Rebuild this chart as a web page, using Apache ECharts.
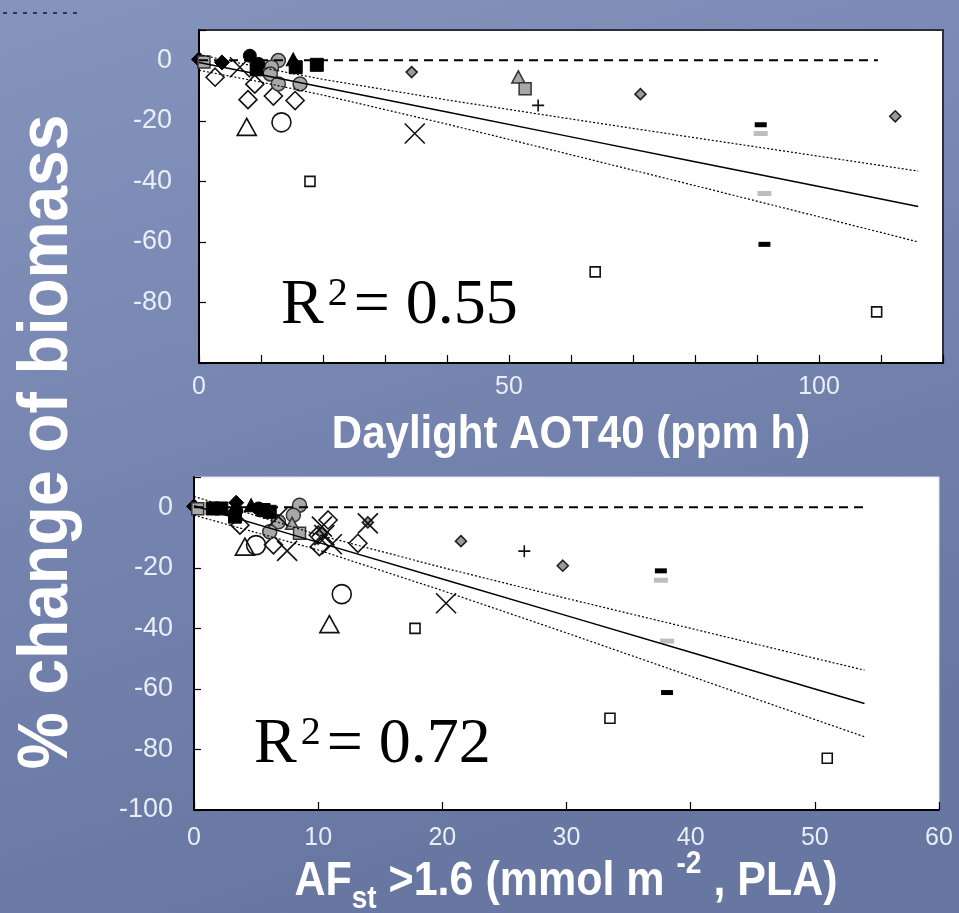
<!DOCTYPE html>
<html><head><meta charset="utf-8">
<script src="https://cdn.jsdelivr.net/npm/echarts@6/dist/echarts.min.js"></script>
<style>html,body{margin:0;padding:0;background:#7584ae;}#c{width:959px;height:913px;}</style>
</head><body><div id="c"></div>
<script>
// ---------- DATA : top panel (x = Daylight AOT40, ppm h ; y = % change of biomass) ----------
const topXTicks = [0, 50, 100];
const topOpenDiamond  = [[2.6,-5.6],[9.0,-7.9],[7.9,-13.0],[12.0,-11.8],[15.5,-13.3]];
const topGrayDiamond  = [[34.3,-3.9],[71.2,-11.2],[112.3,-18.5]];
const topBlackDiamond = [[0,0.3],[3.7,-0.7]];
const topGrayCircle   = [[12.8,-0.1],[11.7,-2.3],[11.5,-4.5],[12.8,-7.8],[16.3,-7.8]];
const topBlackCircle  = [[8.2,1.5],[9.6,-1.2]];
const topOpenCircle   = [[13.3,-20.5]];
const topOpenTriangle = [[7.7,-22.0]];
const topGrayTriangle = [[51.5,-5.5]];
const topBlackTriangle= [[15.2,0.3]];
const topBlackSquare  = [[9.3,-3.0],[15.6,-2.3],[19.0,-1.5]];
const topGraySquare   = [[0.8,-0.6],[52.6,-9.4]];
const topOpenSquare   = [[17.9,-40.0],[63.9,-69.9],[109.3,-83.1]];
const topCross        = [[6.6,-2.3],[34.8,-24.2]];
const topPlus         = [[54.7,-14.9]];
const topBlackDash    = [[90.6,-21.3],[91.2,-60.8]];
const topGrayDash     = [[90.6,-24.2],[91.2,-44.0]];
const topLineX  = [0, 10, 20, 40, 60, 80, 100, 116];
const topFitY   = [-0.7, -4.8, -8.9, -17.1, -25.3, -33.5, -41.7, -48.3];
const topUpperY = [1.9, -2.4, -6.3, -13.1, -19.4, -25.6, -31.7, -36.6];
const topLowerY = [-3.3, -7.2, -11.5, -21.1, -31.2, -41.4, -51.7, -60.0];
const topZeroX  = [0, 109.5];
const topR2 = '0.55';

// ---------- DATA : bottom panel (x = AFst>1.6, mmol m-2 PLA) ----------
const botOpenDiamond  = [[3.7,-5.9],[6.4,-12.4],[10.8,-4.2],[10.0,-9.2],[10.1,-13.0],[13.2,-11.9]];
const botGrayDiamond  = [[10.3,-8.6],[14.0,-5.0],[21.5,-11.2],[29.7,-19.3]];
const botBlackDiamond = [[0,0.3],[3.4,1.5]];
const botGrayCircle   = [[8.5,0.7],[8.0,-2.6],[6.8,-4.8],[6.1,-8.1]];
const botBlackCircle  = [[3.4,-1.2],[5.2,-0.4]];
const botOpenCircle   = [[5.0,-12.5],[11.9,-28.7]];
const botOpenTriangle = [[4.1,-13.0],[10.9,-38.6]];
const botGrayTriangle = [[7.9,-5.3]];
const botBlackTriangle= [[4.6,0.7]];
const botBlackSquare  = [[1.5,-0.4],[2.2,-0.4],[3.3,-3.1],[5.6,-0.9],[6.1,-1.5]];
const botGraySquare   = [[0.3,-0.5],[8.5,-8.6]];
const botOpenSquare   = [[17.8,-40.0],[33.5,-69.7],[51.0,-82.9]];
const botCross        = [[6.8,-3.1],[7.5,-14.4],[10.3,-6.4],[10.5,-9.2],[11.1,-12.2],[14.0,-5.3],[20.3,-31.7]];
const botPlus         = [[26.6,-14.5]];
const botBlackDash    = [[37.6,-21.0],[38.1,-61.2]];
const botGrayDash     = [[37.6,-24.1],[38.1,-44.2]];
const botLineX  = [0, 10, 20, 30, 40, 50, 54];
const botFitY   = [0.5, -11.6, -23.7, -35.8, -47.9, -60.0, -64.8];
const botUpperY = [3.6, -9.1, -19.9, -30.1, -40.0, -49.9, -53.8];
const botLowerY = [-2.6, -14.1, -27.5, -41.5, -55.8, -70.1, -75.8];
const botZeroX  = [0, 54.2];
const botR2 = '0.72';

// ---------- STYLES ----------
const T = 'rgba(0,0,0,0)';
const CROSS = 'path://M0,0L20,20M20,0L0,20';
const PLUS = 'path://M10,0L10,20M0,10L20,10';
const S = {
  openDiamond:  {symbol:'diamond', size:18, fill:T, stroke:'#111', bw:1.6},
  grayDiamond:  {symbol:'diamond', size:11, fill:'#9a9a9a', stroke:'#222', bw:1.6},
  blackDiamond: {symbol:'diamond', size:15, fill:'#000', stroke:'#000', bw:1},
  grayCircle:   {symbol:'circle', size:14, fill:'#a8a8a8', stroke:'#333', bw:1.5},
  blackCircle:  {symbol:'circle', size:13, fill:'#000', stroke:'#000', bw:1},
  openCircle:   {symbol:'circle', size:19, fill:T, stroke:'#111', bw:1.6},
  openTriangle: {symbol:'triangle', size:[19,17], fill:T, stroke:'#111', bw:1.6},
  grayTriangle: {symbol:'triangle', size:[13,12], fill:'#a8a8a8', stroke:'#333', bw:1.5},
  blackTriangle:{symbol:'triangle', size:[14,13], fill:'#000', stroke:'#000', bw:1},
  blackSquare:  {symbol:'rect', size:13, fill:'#000', stroke:'#000', bw:1},
  graySquare:   {symbol:'rect', size:12, fill:'#a8a8a8', stroke:'#333', bw:1.5},
  openSquare:   {symbol:'rect', size:10, fill:T, stroke:'#111', bw:1.6},
  cross:        {symbol:CROSS, size:20, fill:T, stroke:'#111', bw:1.6},
  plus:         {symbol:PLUS, size:12, fill:T, stroke:'#111', bw:1.6},
  blackDash:    {symbol:'rect', size:[12,5], fill:'#000', stroke:'#000', bw:0},
  grayDash:     {symbol:'rect', size:[14,5], fill:'#bdbdbd', stroke:'#bdbdbd', bw:0}
};

function sc(g, data, st) {
  return {type:'scatter', xAxisIndex:g, yAxisIndex:g, data:data, symbol:st.symbol, symbolSize:st.size,
    itemStyle:{color:st.fill, borderColor:st.stroke, borderWidth:st.bw, opacity:1}, z:3, silent:true, animation:false};
}
function ln(g, xs, ys, type, width) {
  return {type:'line', xAxisIndex:g, yAxisIndex:g, data:xs.map((x,i)=>[x, ys[i]]), showSymbol:false, symbol:'none',
    lineStyle:{color:'#000', width:width, type:type}, z:4, silent:true, animation:false};
}
function zeros(xs){ return xs.map(()=>0); }

const series = [];
[[0, {openDiamond:topOpenDiamond, grayDiamond:topGrayDiamond, blackDiamond:topBlackDiamond, grayCircle:topGrayCircle,
      blackCircle:topBlackCircle, openCircle:topOpenCircle, openTriangle:topOpenTriangle, grayTriangle:topGrayTriangle,
      blackTriangle:topBlackTriangle, blackSquare:topBlackSquare, graySquare:topGraySquare, openSquare:topOpenSquare,
      cross:topCross, plus:topPlus, blackDash:topBlackDash, grayDash:topGrayDash}],
 [1, {openDiamond:botOpenDiamond, grayDiamond:botGrayDiamond, blackDiamond:botBlackDiamond, grayCircle:botGrayCircle,
      blackCircle:botBlackCircle, openCircle:botOpenCircle, openTriangle:botOpenTriangle, grayTriangle:botGrayTriangle,
      blackTriangle:botBlackTriangle, blackSquare:botBlackSquare, graySquare:botGraySquare, openSquare:botOpenSquare,
      cross:botCross, plus:botPlus, blackDash:botBlackDash, grayDash:botGrayDash}]
].forEach(([g, groups]) => { Object.keys(groups).forEach(k => series.push(sc(g, groups[k], S[k]))); });

series.push(ln(0, topZeroX, zeros(topZeroX), [9,6], 1.8));
series.push(ln(0, topLineX, topFitY, 'solid', 1.5));
series.push(ln(0, topLineX, topUpperY, [2,2], 1.2));
series.push(ln(0, topLineX, topLowerY, [2,2], 1.2));
series.push(ln(1, botZeroX, zeros(botZeroX), [9,6], 1.8));
series.push(ln(1, botLineX, botFitY, 'solid', 1.5));
series.push(ln(1, botLineX, botUpperY, [2,2], 1.2));
series.push(ln(1, botLineX, botLowerY, [2,2], 1.2));

const LBL = '#e9edf6';
const FONT = "'Liberation Sans', Arial, sans-serif";
const SERIF = "'Liberation Serif', 'Times New Roman', serif";
function xAx(g, max, fmt, margin) {
  return {type:'value', gridIndex:g, min:0, max:max, interval:10,
    axisLine:{show:true, onZero:false, lineStyle:{color:'#000', width:2}},
    axisTick:{show:true, inside:true, length:8, lineStyle:{color:'#000', width:1.2}},
    axisLabel:{color:LBL, fontSize:25, fontFamily:FONT, margin:margin, formatter:fmt},
    splitLine:{show:false}};
}
function yAx(g, hide, margin) {
  return {type:'value', gridIndex:g, min:-100, max:10, interval:20,
    axisLine:{show:true, onZero:false, lineStyle:{color:'#000', width:2}},
    axisTick:{show:true, inside:true, length:7, lineStyle:{color:'#000', width:1.2}},
    axisLabel:{color:LBL, fontSize:27, fontFamily:FONT, margin:margin,
      formatter: v => hide.indexOf(v) >= 0 ? '' : String(v)},
    splitLine:{show:false}};
}
function r2Text(x, y, val) {
  return {type:'text', x:x, y:y, silent:true, z:10,
    style:{text:'R{sup|2}= ' + val, fill:'#000', fontSize:64, fontFamily:SERIF,
      align:'left', verticalAlign:'middle', lineHeight:64,
      rich:{sup:{fontSize:40, fill:'#000', fontFamily:SERIF, verticalAlign:'top', padding:[0,6,0,4]}}}};
}

const option = {
  animation:false,
  backgroundColor:{type:'linear', x:0, y:0, x2:0.3, y2:1, colorStops:[{offset:0, color:'#8494bd'},{offset:1, color:'#6877a2'}]},
  grid:[
    {left:199, top:30, width:744, height:333, show:true, backgroundColor:'#ffffff', borderColor:'#2c2f3a', borderWidth:2},
    {left:194, top:477, width:745, height:333, show:true, backgroundColor:'#ffffff', borderColor:'#dfe3ee', borderWidth:1}
  ],
  xAxis:[
    xAx(0, 120, v => topXTicks.indexOf(v) >= 0 ? String(v) : '', 12),
    xAx(1, 60, v => String(v), 16)
  ],
  yAxis:[ yAx(0, [10, -100], 27), yAx(1, [10], 21) ],
  series: series,
  graphic:[
    {type:'line', shape:{x1:3, y1:13, x2:78, y2:13}, style:{stroke:'#2b3762', lineWidth:2, lineDash:[4,6]}, silent:true},
    {type:'text', x:47, y:442, rotation:Math.PI/2, scaleX:0.97, scaleY:1.08, silent:true,
      style:{text:'% change of biomass', fill:'#ffffff', fontSize:66, fontWeight:'bold', fontFamily:FONT, align:'center', verticalAlign:'middle'}},
    {type:'text', x:571, y:435, scaleY:1.1, silent:true,
      style:{text:'Daylight AOT40 (ppm h)', fill:'#ffffff', fontSize:42, fontWeight:'bold', fontFamily:FONT, align:'center', verticalAlign:'middle'}},
    {type:'text', x:566, y:882, scaleY:1.1, silent:true,
      style:{text:'AF{sub|st} >1.6 (mmol m {sup|-2} , PLA)', fill:'#ffffff', fontSize:43, fontWeight:'bold', fontFamily:FONT,
        align:'center', verticalAlign:'middle', lineHeight:60,
        rich:{sub:{fontSize:28, fontWeight:'bold', fill:'#ffffff', fontFamily:FONT, verticalAlign:'bottom'},
              sup:{fontSize:28, fontWeight:'bold', fill:'#ffffff', fontFamily:FONT, verticalAlign:'top'}}}},
    r2Text(281, 306, topR2),
    r2Text(254, 745, botR2)
  ]
};
const chart = echarts.init(document.getElementById('c'), null, {renderer:'canvas'});
chart.setOption(option);
</script>
</body></html>
